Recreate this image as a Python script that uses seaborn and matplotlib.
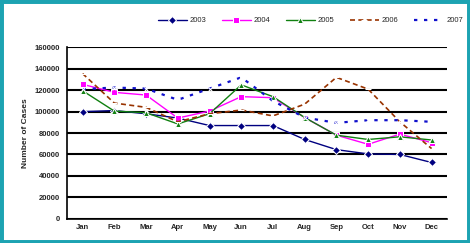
import matplotlib
matplotlib.use("Agg")
import matplotlib.pyplot as plt
import seaborn as sns
import pandas as pd
from matplotlib.patches import Rectangle

months = ["Jan", "Feb", "Mar", "Apr", "May", "Jun", "Jul", "Aug", "Sep", "Oct", "Nov", "Dec"]
y2003 = [100000, 101000, 98000, 94000, 87000, 87000, 87000, 74000, 64500, 60500, 60000, 52500]
y2004 = [125500, 118000, 115500, 94000, 100500, 114000, 113000, 94500, 78000, 69500, 79000, 71000]
y2005 = [119500, 100500, 99000, 88500, 98000, 125000, 114000, 94500, 78000, 74000, 76500, 73500]
y2006 = [135500, 108000, 104000, 90500, 98000, 101500, 96000, 107000, 132000, 121000, 90500, 65500]
y2007 = [121000, 122500, 121500, 111000, 121500, 132000, 110000, 94500, 89500, 92000, 92000, 90500]
series_names = ["2003", "2004", "2005", "2006", "2007"]
yticks = [0, 20000, 40000, 60000, 80000, 100000, 120000, 140000, 160000]

sns.set_theme(style="white")
plt.rcParams['font.family'] = ['Liberation Sans', 'DejaVu Sans']

fig = plt.figure(figsize=(4.7, 2.43), dpi=100)
ax = fig.add_axes([0.142, 0.10, 0.81, 0.705])

x = list(range(len(months)))
styles = [
    dict(color="#000080", marker="D", markersize=4, linestyle="-", linewidth=1.0),
    dict(color="#FF00FF", marker="s", markersize=4, linestyle="-", linewidth=1.0),
    dict(color="#108010", marker="^", markersize=4, linestyle="-", linewidth=1.0),
    dict(color="#993300", marker="_", markersize=4, linestyle=(0, (3, 2)), linewidth=1.2),
    dict(color="#1010CC", marker="x", markersize=3.5, linestyle=(0, (1.5, 3)), linewidth=1.6),
]
for name, vals, st in zip(series_names, [y2003, y2004, y2005, y2006, y2007], styles):
    df = pd.DataFrame({"x": x, "y": vals})
    sns.lineplot(data=df, x="x", y="y", ax=ax, label=name, **st)

ax.set_xlim(-0.5, 11.5)
ax.set_ylim(0, 160000)
ax.set_yticks(yticks)
ax.set_yticklabels([str(v) for v in yticks])
ax.set_xticks(x)
ax.set_xticklabels(months)
ax.set_xticks([i + 0.5 for i in range(-1, 12)], minor=True)
ax.tick_params(axis="x", which="major", length=0, labelsize=5.5, pad=4)
ax.tick_params(axis="x", which="minor", length=3, width=0.8, color="black", direction="out")
ax.tick_params(axis="y", which="major", length=3, width=0.8, color="black", labelsize=5.5, pad=2)
for lab in ax.get_xticklabels() + ax.get_yticklabels():
    lab.set_fontweight("bold")
ax.set_xlabel("")
ax.set_ylabel("Number of Cases", fontsize=6, fontweight="bold", labelpad=4)
ax.yaxis.grid(True, color="black", linewidth=1.5)
ax.set_axisbelow(True)
for s in ["top", "right"]:
    ax.spines[s].set_visible(False)
for s in ["left", "bottom"]:
    ax.spines[s].set_color("black")
    ax.spines[s].set_linewidth(1.2)

ax.legend(loc="center", bbox_to_anchor=(0.66, 0.915), bbox_transform=fig.transFigure,
          ncol=5, frameon=False, fontsize=5.5, handlelength=3.8, columnspacing=2.0,
          handletextpad=0.4)

fig.patches.append(Rectangle((0, 0), 1, 1, transform=fig.transFigure, fill=False,
                             edgecolor="#1DA3B2", linewidth=5, zorder=10))
fig.savefig("out.png", dpi=100)
